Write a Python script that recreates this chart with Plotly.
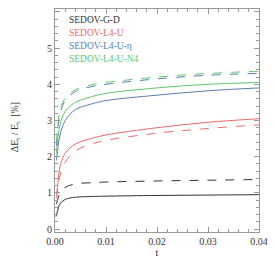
import plotly.graph_objects as go

# data
t_gd_s = [0.0002, 0.0005, 0.001, 0.002, 0.004, 0.007, 0.01, 0.02, 0.03, 0.04]
v_gd_s = [0.35, 0.5, 0.7, 0.82, 0.88, 0.9, 0.91, 0.93, 0.94, 0.95]
t_gd_d = [0.0003, 0.0006, 0.001, 0.002, 0.004, 0.007, 0.01, 0.02, 0.03, 0.04]
v_gd_d = [0.7, 0.85, 1.0, 1.15, 1.25, 1.28, 1.3, 1.33, 1.35, 1.37]
t_l4_s = [0.0003, 0.0006, 0.001, 0.0015, 0.002, 0.004, 0.007, 0.01, 0.02, 0.03, 0.04]
v_l4_s = [0.95, 1.3, 1.75, 1.95, 2.1, 2.35, 2.5, 2.6, 2.8, 2.95, 3.05]
t_l4_d = [0.0003, 0.0006, 0.001, 0.002, 0.004, 0.006, 0.01, 0.02, 0.03, 0.04]
v_l4_d = [0.85, 1.15, 1.5, 1.85, 2.15, 2.3, 2.45, 2.65, 2.78, 2.88]
t_eta_s = [0.0003, 0.0006, 0.001, 0.002, 0.004, 0.007, 0.01, 0.02, 0.03, 0.04]
v_eta_s = [1.9, 2.3, 2.6, 3.0, 3.3, 3.45, 3.55, 3.7, 3.82, 3.9]
t_eta_d = [0.0003, 0.0006, 0.001, 0.002, 0.004, 0.007, 0.01, 0.02, 0.03, 0.04]
v_eta_d = [2.3, 2.85, 3.2, 3.55, 3.8, 3.93, 4.0, 4.15, 4.25, 4.3]
t_n4_s = [0.0003, 0.0006, 0.001, 0.002, 0.004, 0.007, 0.01, 0.02, 0.03, 0.04]
v_n4_s = [2.1, 2.55, 2.9, 3.25, 3.5, 3.65, 3.75, 3.9, 4.0, 4.05]
t_n4_d = [0.0003, 0.0006, 0.001, 0.002, 0.004, 0.007, 0.01, 0.02, 0.03, 0.04]
v_n4_d = [2.4, 2.95, 3.3, 3.62, 3.85, 3.98, 4.05, 4.2, 4.3, 4.36]

labels = ["SEDOV-G-D", "SEDOV-L4-U", "SEDOV-L4-U-η", "SEDOV-L4-U-N4"]
colors = ["#333333", "#ec6a66", "#5b80b4", "#5ec86e"]

series = [
    (t_gd_d, v_gd_d, 0, "dash"), (t_gd_s, v_gd_s, 0, "solid"),
    (t_l4_d, v_l4_d, 1, "dash"), (t_l4_s, v_l4_s, 1, "solid"),
    (t_eta_d, v_eta_d, 2, "dash"), (t_eta_s, v_eta_s, 2, "solid"),
    (t_n4_d, v_n4_d, 3, "dash"), (t_n4_s, v_n4_s, 3, "solid"),
]

fig = go.Figure()
for tx, vy, ci, dash in series:
    fig.add_trace(go.Scatter(x=tx, y=vy, mode="lines",
                             line=dict(color=colors[ci], width=1, dash=dash, shape="spline"),
                             showlegend=False))

font = "Liberation Serif"
for i, (lab, c) in enumerate(zip(labels, colors)):
    fig.add_annotation(x=0.06, y=0.95 - i * 0.058, xref="paper", yref="paper", text=lab, showarrow=False,
                       xanchor="left", yanchor="middle", font=dict(family=font, size=9.5, color=c))

# y-axis title as rotated annotation
fig.add_annotation(x=-40 / 204, y=0.47, xref="paper", yref="paper",
                   text="ΔE<sub>t</sub> / E<sub>t</sub>  [%]", textangle=-90, showarrow=False,
                   xanchor="center", yanchor="middle", font=dict(family=font, size=10, color="#333333"))

axis_common = dict(showgrid=False, zeroline=False, showline=True, linecolor="#999999", linewidth=1, mirror="ticks",
                   ticks="inside", tickcolor="#999999", ticklen=5, automargin=False,
                   tickfont=dict(family=font, size=10, color="#333333"))
fig.update_xaxes(range=[0, 0.04], dtick=0.01, tickformat=".2f",
                 minor=dict(dtick=0.002, ticks="inside", ticklen=3, tickcolor="#999999"),
                 title=dict(text="t", font=dict(family=font, size=10, color="#333333"), standoff=0), **axis_common)
fig.update_yaxes(range=[-0.08, 6.08], dtick=1,
                 minor=dict(dtick=0.2, ticks="inside", ticklen=3, tickcolor="#999999"),
                 **axis_common)
# page body has an 8px default margin; size the figure so the plot area lands where the reference has it
fig.update_layout(width=267, height=251, margin=dict(l=47, r=16, t=1, b=27),
                  plot_bgcolor="white", paper_bgcolor="white")
fig.write_html("out.html")
